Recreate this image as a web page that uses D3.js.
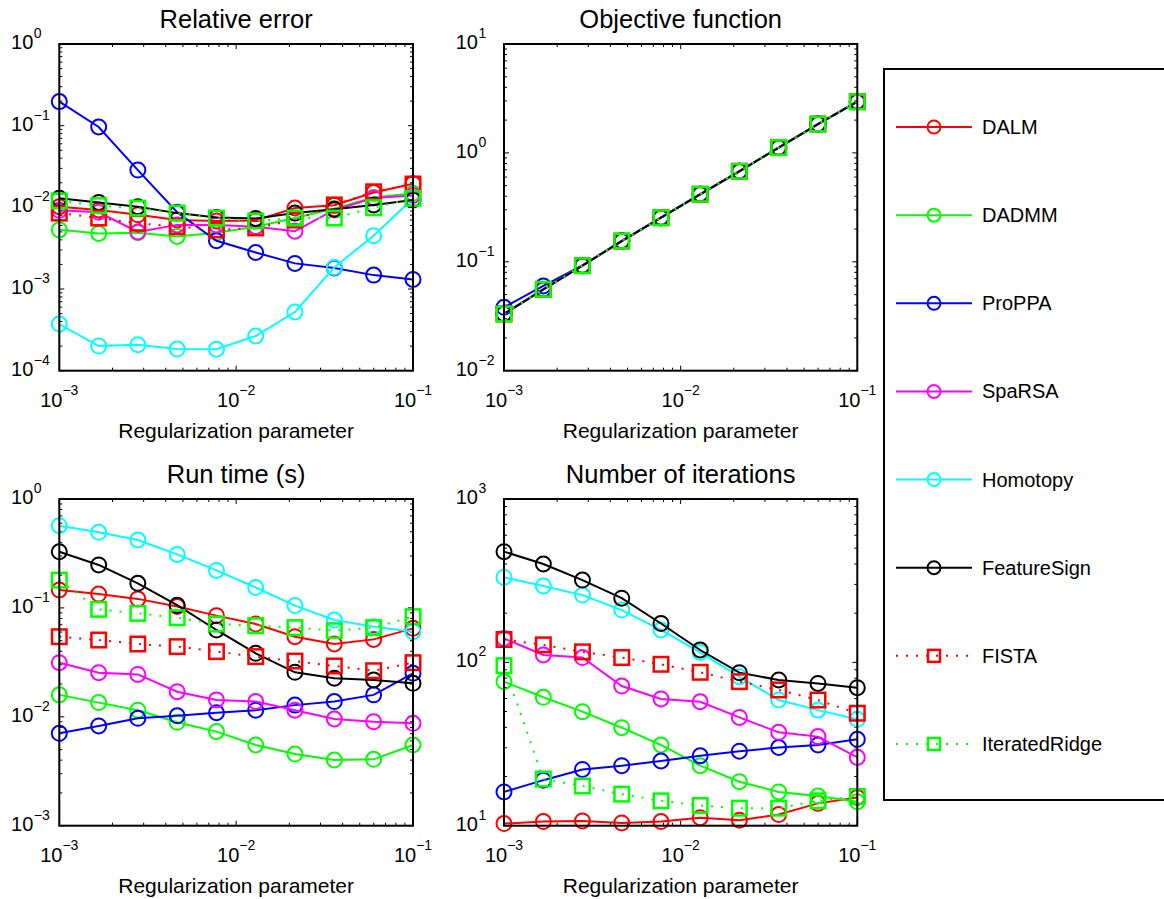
<!DOCTYPE html>
<html><head><meta charset="utf-8">
<script src="https://cdn.jsdelivr.net/npm/d3@7"></script>
<style>body{margin:0;background:#fff}svg{display:block}text{font-family:"Liberation Sans",Arial,Helvetica,sans-serif;fill:#000}</style>
</head><body><svg id="c" width="1164" height="899"></svg>
<script>
const lambdas = [0.001, 0.00167, 0.00278, 0.00464, 0.00774, 0.0129, 0.0215, 0.0359, 0.0599, 0.1];
const seriesNames = ["DALM","DADMM","ProPPA","SpaRSA","Homotopy","FeatureSign","FISTA","IteratedRidge"];
const seriesColors = ["#ff0000","#00ff00","#0000ff","#ff00ff","#00ffff","#000000","#ff0000","#00ff00"];
const seriesMarkers = ["circle","circle","circle","circle","circle","circle","square","square"];
const seriesDotted = [false,false,false,false,false,false,true,true];

// Relative error
const relDALM = [0.0102, 0.0093, 0.0081, 0.0070, 0.0068, 0.0069, 0.0098, 0.0106, 0.0152, 0.0195];
const relDADMM = [0.0053, 0.0048, 0.0049, 0.0044, 0.0049, 0.0058, 0.0074, 0.0097, 0.0132, 0.0149];
const relProPPA = [0.197, 0.0964, 0.0286, 0.0087, 0.0039, 0.0028, 0.00206, 0.00181, 0.00148, 0.00131];
const relSpaRSA = [0.0092, 0.0087, 0.0050, 0.0061, 0.0061, 0.0058, 0.0051, 0.0093, 0.0130, 0.0140];
const relHomotopy = [0.000373, 0.000200, 0.000208, 0.000184, 0.000183, 0.000266, 0.000523, 0.00184, 0.0045, 0.0128];
const relFeatureSign = [0.0129, 0.0115, 0.0102, 0.0085, 0.0075, 0.0073, 0.0085, 0.0095, 0.0107, 0.0123];
const relFISTA = [0.0085, 0.0074, 0.0064, 0.0058, 0.0053, 0.0056, 0.0070, 0.0107, 0.0155, 0.0193];
const relIteratedRidge = [0.0120, 0.0105, 0.0098, 0.0085, 0.0074, 0.0068, 0.0074, 0.0074, 0.0099, 0.0129];

// Objective function
const objDALM = [0.0332, 0.0558, 0.0922, 0.155, 0.254, 0.417, 0.678, 1.12, 1.84, 2.95];
const objDADMM = [0.0332, 0.0558, 0.0922, 0.155, 0.254, 0.417, 0.678, 1.12, 1.84, 2.95];
const objProPPA = [0.0382, 0.0600, 0.0925, 0.156, 0.255, 0.418, 0.679, 1.12, 1.84, 2.95];
const objSpaRSA = [0.0332, 0.0558, 0.0922, 0.155, 0.254, 0.417, 0.678, 1.12, 1.84, 2.95];
const objHomotopy = [0.0332, 0.0558, 0.0922, 0.155, 0.254, 0.417, 0.678, 1.12, 1.84, 2.95];
const objFeatureSign = [0.0332, 0.0558, 0.0922, 0.155, 0.254, 0.417, 0.678, 1.12, 1.84, 2.95];
const objFISTA = [0.0332, 0.0558, 0.0922, 0.155, 0.254, 0.417, 0.678, 1.12, 1.84, 2.95];
const objIteratedRidge = [0.0332, 0.0558, 0.0922, 0.155, 0.254, 0.417, 0.678, 1.12, 1.84, 2.95];

// Run time (s)
const timeDALM = [0.146, 0.134, 0.121, 0.103, 0.0849, 0.0711, 0.0544, 0.0466, 0.0514, 0.0649];
const timeDADMM = [0.0159, 0.0135, 0.0115, 0.0089, 0.00731, 0.00551, 0.00455, 0.00401, 0.00407, 0.00551];
const timeProPPA = [0.00705, 0.00824, 0.00968, 0.0102, 0.0109, 0.0115, 0.0128, 0.0138, 0.0159, 0.0251];
const timeSpaRSA = [0.0314, 0.0254, 0.0245, 0.0170, 0.0143, 0.0138, 0.0115, 0.00955, 0.00902, 0.00871];
const timeHomotopy = [0.569, 0.494, 0.420, 0.310, 0.221, 0.154, 0.105, 0.0774, 0.0673, 0.0605];
const timeFeatureSign = [0.328, 0.248, 0.168, 0.106, 0.0627, 0.0383, 0.0256, 0.0226, 0.0218, 0.0203];
const timeFISTA = [0.0544, 0.0507, 0.0466, 0.0441, 0.0397, 0.0357, 0.0325, 0.0293, 0.0265, 0.0314];
const timeIteratedRidge = [0.180, 0.097, 0.0891, 0.0813, 0.0711, 0.0687, 0.0659, 0.0618, 0.0659, 0.0831];

// Number of iterations
const iterDALM = [10.3, 10.6, 10.7, 10.4, 10.6, 11.2, 10.8, 11.7, 13.7, 14.9];
const iterDADMM = [76.2, 61.1, 49.9, 39.8, 31.2, 23.3, 18.6, 16.1, 15.2, 14.0];
const iterProPPA = [16.1, 19.0, 22.1, 23.3, 24.9, 26.8, 28.6, 30.1, 31.2, 33.8];
const iterSpaRSA = [140, 111, 107, 71.6, 59.7, 57.4, 46.0, 37.3, 35.1, 26.2];
const iterHomotopy = [331, 293, 258, 209, 158, 115, 81.7, 58.8, 51.0, 44.8];
const iterFeatureSign = [476, 400, 319, 247, 173, 119, 86.5, 78, 74.3, 70];
const iterFISTA = [138, 128, 116, 107, 97.3, 86.9, 76.2, 67.8, 58.8, 48.8];
const iterIteratedRidge = [95.4, 19.3, 17.5, 15.6, 14.2, 13.3, 12.8, 12.8, 14.2, 15.1];

const panelTitles = ["Relative error","Objective function","Run time (s)","Number of iterations"];
const xLabel = "Regularization parameter";
const xDomain = [1e-3, 1e-1];
const yDomains = [[1e-4, 1e0],[1e-2, 1e1],[1e-3, 1e0],[1e1, 1e3]];

const panelData = [
  [relDALM, relDADMM, relProPPA, relSpaRSA, relHomotopy, relFeatureSign, relFISTA, relIteratedRidge],
  [objDALM, objDADMM, objProPPA, objSpaRSA, objHomotopy, objFeatureSign, objFISTA, objIteratedRidge],
  [timeDALM, timeDADMM, timeProPPA, timeSpaRSA, timeHomotopy, timeFeatureSign, timeFISTA, timeIteratedRidge],
  [iterDALM, iterDADMM, iterProPPA, iterSpaRSA, iterHomotopy, iterFeatureSign, iterFISTA, iterIteratedRidge]
];

// layout
const boxes = [
  {l:59.3, r:413, t:44, b:370.7},
  {l:504, r:857.3, t:44, b:370.7},
  {l:59.3, r:413, t:499, b:825.7},
  {l:504, r:857.3, t:499, b:825.7}
];

const svg = d3.select("#c");
const FS_TICK = 20, FS_SUP = 14, FS_XL = 21, FS_TITLE = 25.5, FS_LEG = 20;
const R = 7.5, SQ = 14.5, LW = 2;

function sup(exp){ return exp < 0 ? "\u2212" + Math.abs(exp) : String(exp); }

function drawMarker(g, shape, cx, cy, color, r, sq){
  if(shape === "circle"){
    g.append("circle").attr("cx",cx).attr("cy",cy).attr("r",r)
      .attr("fill","none").attr("stroke",color).attr("stroke-width",LW);
  } else {
    g.append("rect").attr("x",cx-sq/2).attr("y",cy-sq/2).attr("width",sq).attr("height",sq)
      .attr("fill","none").attr("stroke",color).attr("stroke-width",LW+0.5);
  }
}

panelData.forEach((series, pi) => {
  const b = boxes[pi];
  const x = d3.scaleLog().domain(xDomain).range([b.l, b.r]);
  const y = d3.scaleLog().domain(yDomains[pi]).range([b.b, b.t]);
  const g = svg.append("g");

  // ticks (inward, all four sides)
  const xt = x.ticks();
  const yt = y.ticks();
  const isMajor = v => Math.abs(Math.log10(v) - Math.round(Math.log10(v))) < 1e-9;
  const tk = g.append("g").attr("stroke","#000").attr("stroke-width",1);
  xt.forEach(v => {
    const len = isMajor(v) ? 5 : 3;
    const px = x(v);
    tk.append("line").attr("x1",px).attr("x2",px).attr("y1",b.b).attr("y2",b.b-len);
    tk.append("line").attr("x1",px).attr("x2",px).attr("y1",b.t).attr("y2",b.t+len);
  });
  yt.forEach(v => {
    const len = isMajor(v) ? 5 : 3;
    const py = y(v);
    tk.append("line").attr("y1",py).attr("y2",py).attr("x1",b.l).attr("x2",b.l+len);
    tk.append("line").attr("y1",py).attr("y2",py).attr("x1",b.r).attr("x2",b.r-len);
  });

  // x tick labels
  xt.filter(isMajor).forEach(v => {
    const e = Math.round(Math.log10(v));
    const t = g.append("text").attr("x",x(v)).attr("y",b.b+36).attr("text-anchor","middle")
      .attr("font-size",FS_TICK);
    t.append("tspan").text("10");
    t.append("tspan").attr("dy",-12).attr("font-size",FS_SUP).text(sup(e));
  });
  // y tick labels
  yt.filter(isMajor).forEach(v => {
    const e = Math.round(Math.log10(v));
    const py = y(v);
    g.append("text").attr("x",b.l-26).attr("y",py+5).attr("text-anchor","end")
      .attr("font-size",FS_TICK).text("10");
    g.append("text").attr("x",b.l-25.5).attr("y",py-6).attr("text-anchor","start")
      .attr("font-size",FS_SUP).text(sup(e));
  });

  // x label and title
  g.append("text").attr("x",(b.l+b.r)/2).attr("y",b.b+67).attr("text-anchor","middle")
    .attr("font-size",FS_XL).text(xLabel);
  g.append("text").attr("x",(b.l+b.r)/2).attr("y",b.t-16).attr("text-anchor","middle")
    .attr("font-size",FS_TITLE).text(panelTitles[pi]);

  // series
  const line = d3.line().x((d,i)=>x(lambdas[i])).y(d=>y(d));
  series.forEach((vals, si) => {
    const sg = g.append("g");
    sg.append("path").attr("d", line(vals)).attr("fill","none")
      .attr("stroke", seriesColors[si]).attr("stroke-width", LW)
      .attr("stroke-dasharray", seriesDotted[si] ? "2,8" : null);
    vals.forEach((v,i) => drawMarker(sg, seriesMarkers[si], x(lambdas[i]), y(v), seriesColors[si], R, SQ));
  });

  // frame
  g.append("rect").attr("x",b.l).attr("y",b.t).attr("width",b.r-b.l).attr("height",b.b-b.t)
    .attr("fill","none").attr("stroke","#000").attr("stroke-width",2);
});

// legend
const lg = svg.append("g");
lg.append("rect").attr("x",884).attr("y",69).attr("width",320).attr("height",731)
  .attr("fill","#fff").attr("stroke","#000").attr("stroke-width",2);
const legY = d3.scalePoint().domain(seriesNames).range([127, 744]);
seriesNames.forEach((name, si) => {
  const cy = legY(name);
  lg.append("line").attr("x1",896).attr("x2",972).attr("y1",cy).attr("y2",cy)
    .attr("stroke",seriesColors[si]).attr("stroke-width",LW)
    .attr("stroke-dasharray", seriesDotted[si] ? "2,8" : null);
  drawMarker(lg, seriesMarkers[si], 934, cy, seriesColors[si], 6.5, 12);
  lg.append("text").attr("x",982).attr("y",cy+7).attr("font-size",FS_LEG).text(name);
});
</script></body></html>
